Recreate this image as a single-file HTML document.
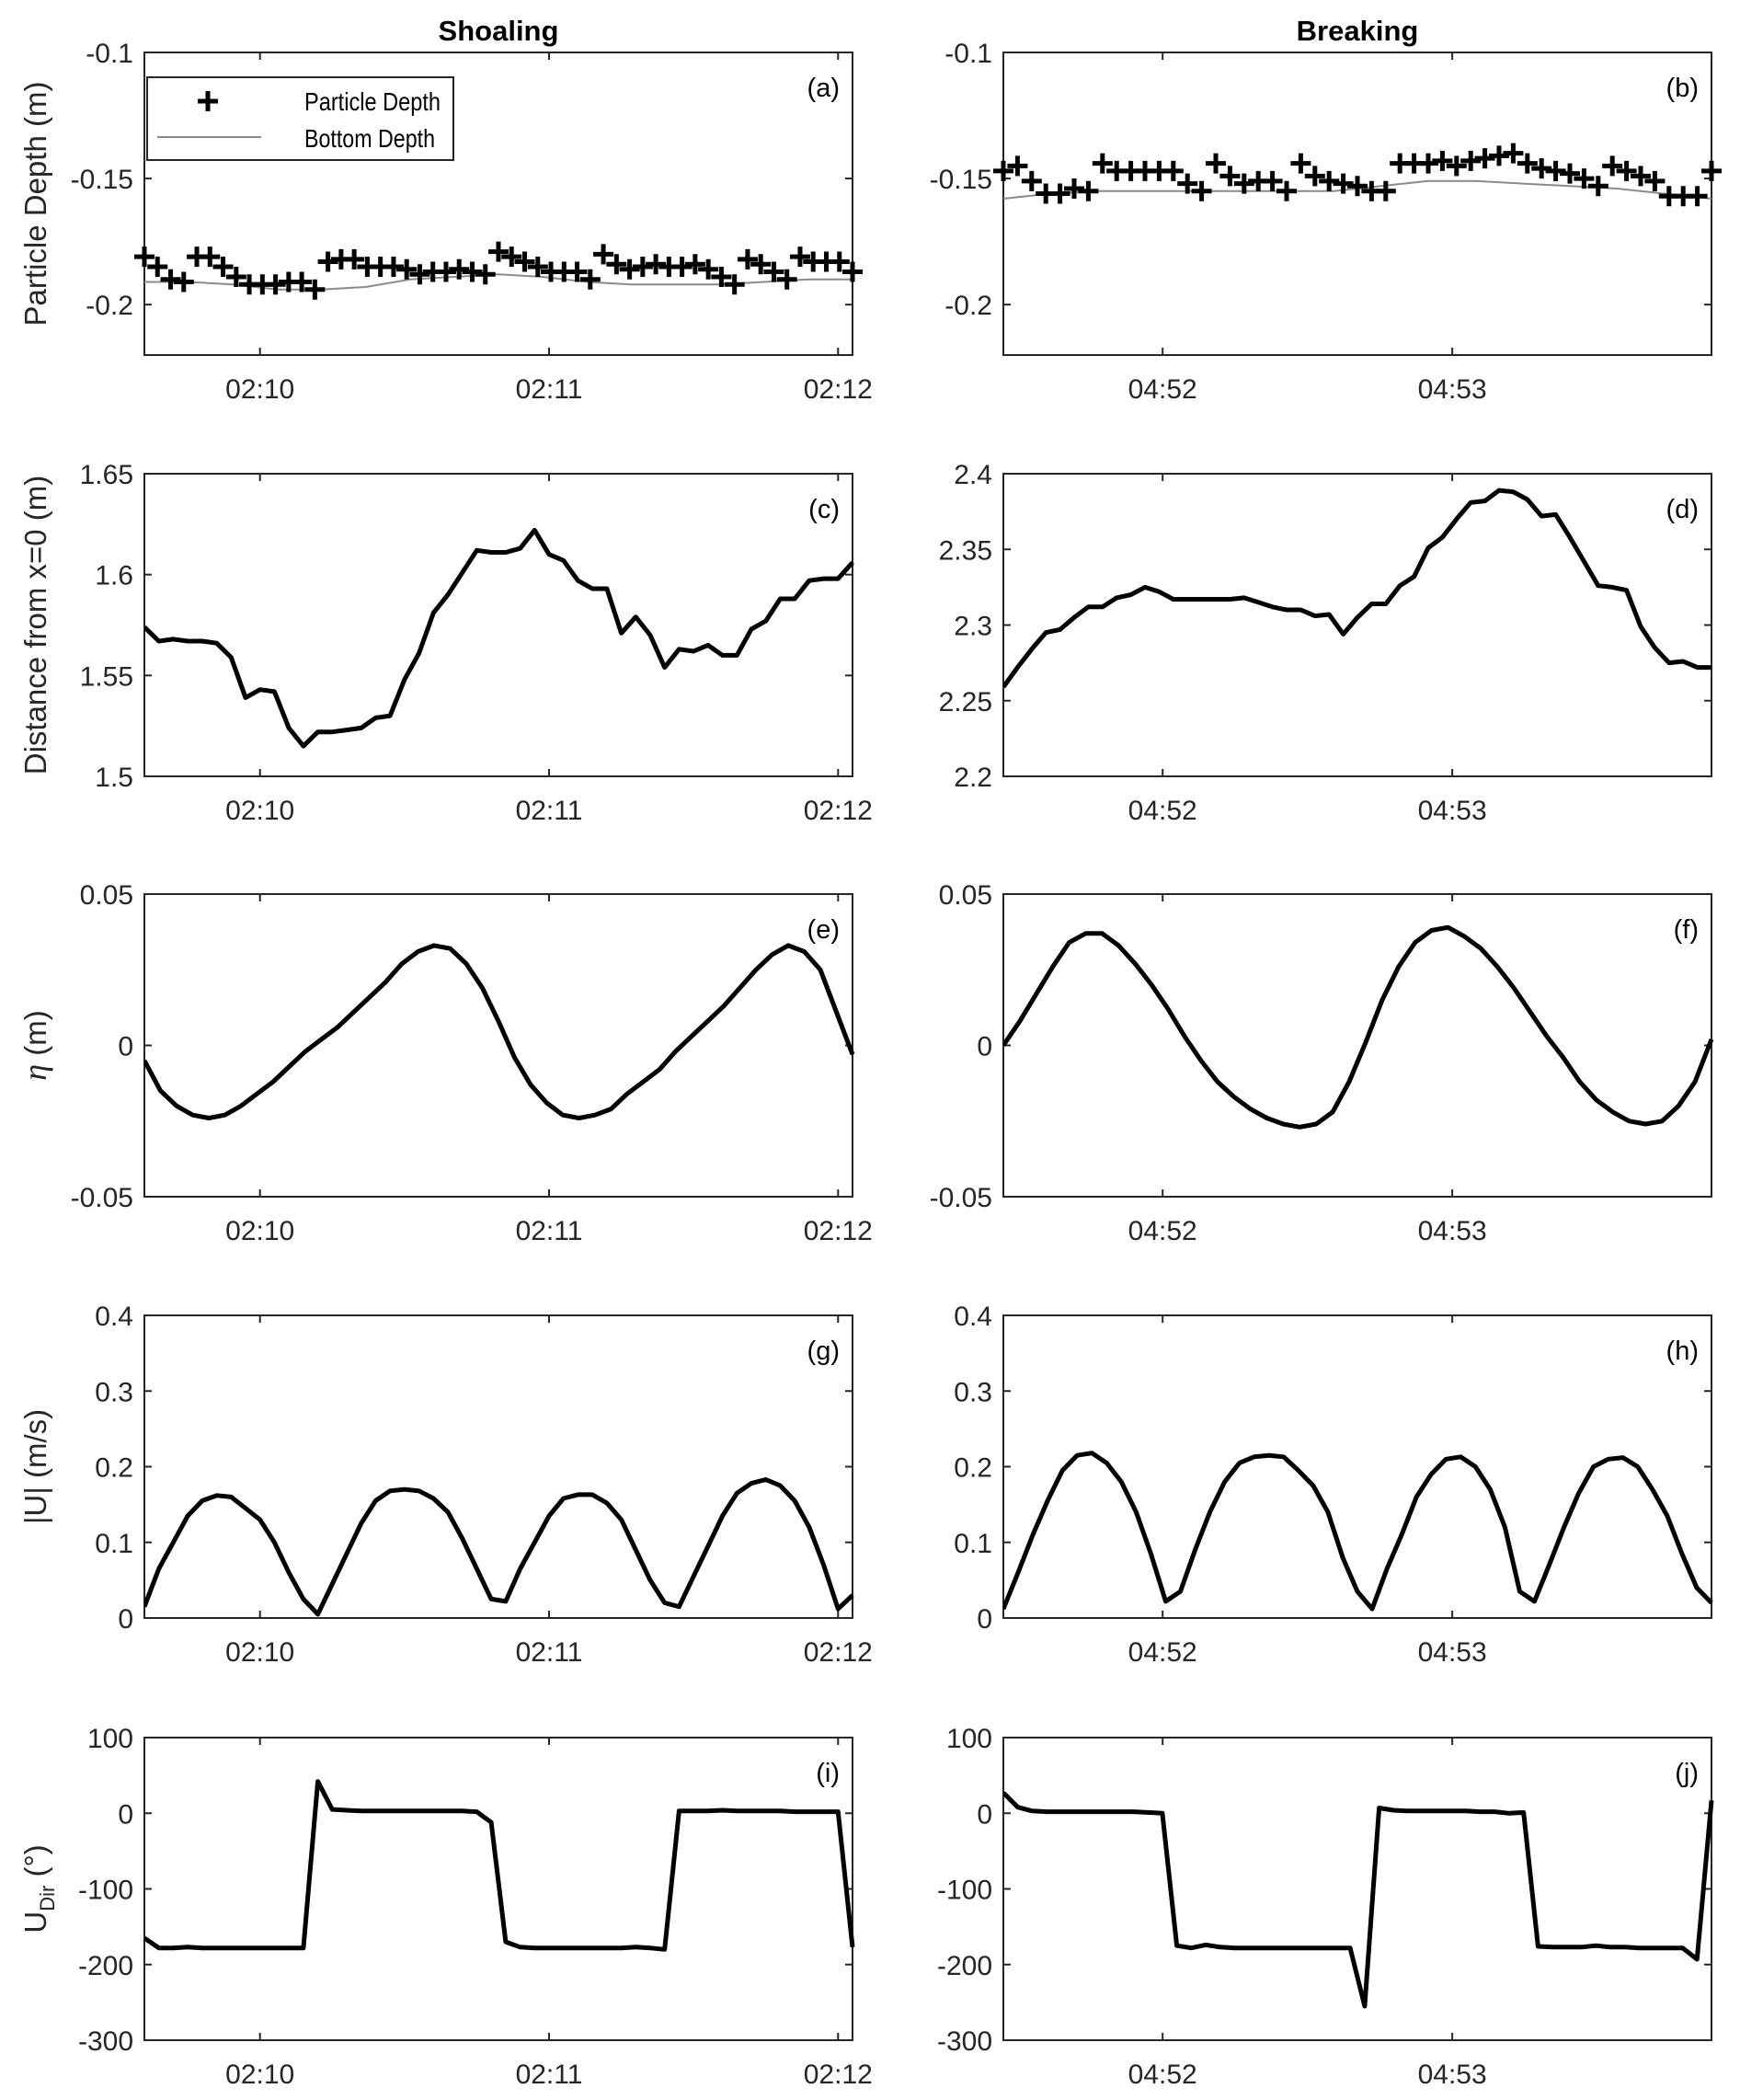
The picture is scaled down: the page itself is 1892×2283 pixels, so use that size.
<!DOCTYPE html>
<html><head><meta charset="utf-8">
<style>
html,body{margin:0;padding:0;background:#fff;}
svg{display:block;font-family:"Liberation Sans",sans-serif;}
</style></head>
<body>
<svg id="fig" width="1892" height="2283" viewBox="0 0 1892 2283">
<text x="542" y="44" font-size="31" font-weight="bold" text-anchor="middle" fill="#000">Shoaling</text>
<text x="1476" y="44" font-size="31" font-weight="bold" text-anchor="middle" fill="#000">Breaking</text>
</svg>
<script>
// ---- data ----
const shoalStart = 36, shoalEnd = 183;   // seconds after 02:09
const breakStart = 27, breakEnd = 173.7; // seconds after 04:51
const shoalTickLabels = ["02:10","02:11","02:12"];
const breakTickLabels = ["04:52","04:53"];
const aParticle = [-0.181,-0.185,-0.19,-0.191,-0.181,-0.181,-0.185,-0.189,-0.192,-0.192,-0.192,-0.191,-0.191,-0.194,-0.183,-0.182,-0.182,-0.185,-0.185,-0.185,-0.186,-0.188,-0.187,-0.187,-0.186,-0.187,-0.188,-0.179,-0.181,-0.183,-0.185,-0.187,-0.187,-0.187,-0.19,-0.18,-0.184,-0.186,-0.185,-0.184,-0.185,-0.185,-0.184,-0.186,-0.189,-0.192,-0.182,-0.184,-0.187,-0.19,-0.181,-0.183,-0.183,-0.183,-0.187];
const aBottom = [-0.191,-0.191,-0.192,-0.194,-0.194,-0.193,-0.190,-0.189,-0.188,-0.189,-0.191,-0.192,-0.192,-0.192,-0.191,-0.190,-0.190];
const bParticle = [-0.147,-0.145,-0.151,-0.156,-0.156,-0.154,-0.155,-0.144,-0.147,-0.147,-0.147,-0.147,-0.147,-0.152,-0.155,-0.144,-0.149,-0.152,-0.151,-0.151,-0.155,-0.144,-0.149,-0.151,-0.152,-0.153,-0.155,-0.155,-0.144,-0.144,-0.144,-0.143,-0.145,-0.143,-0.142,-0.141,-0.140,-0.144,-0.146,-0.147,-0.148,-0.150,-0.153,-0.145,-0.147,-0.149,-0.151,-0.157,-0.157,-0.157,-0.147];
const bBottom = [-0.158,-0.156,-0.155,-0.155,-0.155,-0.155,-0.155,-0.155,-0.153,-0.151,-0.151,-0.152,-0.153,-0.154,-0.156,-0.158];
const cDist = [1.574,1.567,1.568,1.567,1.567,1.566,1.559,1.539,1.543,1.542,1.524,1.515,1.522,1.522,1.523,1.524,1.529,1.530,1.548,1.561,1.581,1.590,1.601,1.612,1.611,1.611,1.613,1.622,1.610,1.607,1.597,1.593,1.593,1.571,1.579,1.570,1.554,1.563,1.562,1.565,1.560,1.560,1.573,1.577,1.588,1.588,1.597,1.598,1.598,1.606];
const dDist = [2.259,2.272,2.284,2.295,2.297,2.305,2.312,2.312,2.318,2.320,2.325,2.322,2.317,2.317,2.317,2.317,2.317,2.318,2.315,2.312,2.310,2.310,2.306,2.307,2.294,2.305,2.314,2.314,2.326,2.332,2.351,2.358,2.370,2.381,2.382,2.389,2.388,2.383,2.372,2.373,2.358,2.342,2.326,2.325,2.323,2.299,2.285,2.275,2.276,2.272,2.272];
const eEta = [-0.005,-0.015,-0.02,-0.023,-0.024,-0.023,-0.02,-0.016,-0.012,-0.007,-0.002,0.002,0.006,0.011,0.016,0.021,0.027,0.031,0.033,0.032,0.027,0.019,0.008,-0.004,-0.013,-0.019,-0.023,-0.024,-0.023,-0.021,-0.016,-0.012,-0.008,-0.002,0.003,0.008,0.013,0.019,0.025,0.030,0.033,0.031,0.025,0.011,-0.003];
const fEta = [0,0.008,0.017,0.026,0.034,0.037,0.037,0.033,0.027,0.02,0.012,0.003,-0.005,-0.012,-0.017,-0.021,-0.024,-0.026,-0.027,-0.026,-0.022,-0.012,0.001,0.015,0.026,0.034,0.038,0.039,0.036,0.032,0.026,0.019,0.011,0.003,-0.004,-0.012,-0.018,-0.022,-0.025,-0.026,-0.025,-0.02,-0.012,0.002];
const gSpeed = [0.015,0.065,0.1,0.135,0.155,0.162,0.16,0.145,0.13,0.1,0.06,0.025,0.005,0.045,0.085,0.125,0.155,0.168,0.17,0.168,0.158,0.14,0.105,0.065,0.025,0.022,0.065,0.10,0.135,0.158,0.163,0.163,0.152,0.13,0.09,0.05,0.02,0.015,0.055,0.095,0.135,0.165,0.178,0.183,0.175,0.155,0.12,0.07,0.012,0.03];
const hSpeed = [0.012,0.06,0.11,0.155,0.195,0.215,0.218,0.205,0.18,0.14,0.085,0.022,0.035,0.09,0.14,0.18,0.205,0.213,0.215,0.213,0.195,0.175,0.14,0.08,0.035,0.012,0.065,0.11,0.16,0.19,0.21,0.213,0.2,0.17,0.12,0.035,0.022,0.07,0.12,0.165,0.2,0.21,0.212,0.2,0.17,0.135,0.085,0.04,0.02];
const iDir = [-165,-178,-178,-177,-178,-178,-178,-178,-178,-178,-178,-178,42,5,4,3,3,3,3,3,3,3,3,2,-12,-170,-177,-178,-178,-178,-178,-178,-178,-178,-177,-178,-180,3,3,3,4,3,3,3,3,2,2,2,2,-177];
const jDir = [27,8,3,2,2,2,2,2,2,2,1,0,-175,-178,-174,-177,-178,-178,-178,-178,-178,-178,-178,-178,-178,-255,7,4,3,3,3,3,3,2,2,0,1,-176,-177,-177,-177,-175,-177,-177,-178,-178,-178,-178,-193,17];
const ticksA = [-0.2,-0.15,-0.1], labelsA = ["-0.2","-0.15","-0.1"];
const ticksC = [1.5,1.55,1.6,1.65], labelsC = ["1.5","1.55","1.6","1.65"];
const ticksD = [2.2,2.25,2.3,2.35,2.4], labelsD = ["2.2","2.25","2.3","2.35","2.4"];
const ticksE = [-0.05,0,0.05], labelsE = ["-0.05","0","0.05"];
const ticksG = [0,0.1,0.2,0.3,0.4], labelsG = ["0","0.1","0.2","0.3","0.4"];
const ticksI = [-300,-200,-100,0,100], labelsI = ["-300","-200","-100","0","100"];

// ---- drawing ----
const NS = "http://www.w3.org/2000/svg";
const svg = document.getElementById("fig");
function mk(tag, attrs, parent){
  const e = document.createElementNS(NS, tag);
  for (const k in attrs) e.setAttribute(k, attrs[k]);
  (parent||svg).appendChild(e);
  return e;
}
const L = {x0:157, x1:927, xmin:shoalStart, xmax:shoalEnd, ticks:[60,120,180], tl:shoalTickLabels};
const R = {x0:1091, x1:1861, xmin:breakStart, xmax:breakEnd, ticks:[60,120], tl:breakTickLabels};
const rowTop = [57, 515, 972, 1430, 1889], H = 329;

function panel(col, row, ymin, ymax, yt, yl, tag, ylabel){
  const y0 = rowTop[row], y1 = y0 + H;
  const g = mk("g", {});
  
  
  const sx = t => col.x0 + (t - col.xmin) / (col.xmax - col.xmin) * (col.x1 - col.x0);
  const sy = v => y1 - (v - ymin) / (ymax - ymin) * H;
  const ax = mk("rect", {x:col.x0, y:y0, width:col.x1-col.x0, height:H, fill:"none", stroke:"#262626", "stroke-width":2}, g);
  
  
  col.ticks.forEach((t, i) => {
    const x = sx(t);
    mk("line", {x1:x, x2:x, y1:y1, y2:y1-8, stroke:"#262626", "stroke-width":2}, g);
    mk("line", {x1:x, x2:x, y1:y0, y2:y0+8, stroke:"#262626", "stroke-width":2}, g);
    const tx = mk("text", {x:x, y:y1+47, "font-size":30, "text-anchor":"middle", fill:"#262626"}, g);
    
    
    tx.textContent = col.tl[i];
  });
  yt.forEach((v, i) => {
    const y = sy(v);
    mk("line", {x1:col.x0, x2:col.x0+8, y1:y, y2:y, stroke:"#262626", "stroke-width":2}, g);
    mk("line", {x1:col.x1, x2:col.x1-8, y1:y, y2:y, stroke:"#262626", "stroke-width":2}, g);
    const tx = mk("text", {x:col.x0-12, y:y+11, "font-size":30, "text-anchor":"end", fill:"#262626"}, g);
    
    
    tx.textContent = yl[i];
  });
  const pl = mk("text", {x:col.x1-14, y:y0+48, "font-size":29, "text-anchor":"end", fill:"#000"}, g);
  
  
  pl.textContent = "(" + tag + ")";
  if (ylabel) {
    const t = mk("text", {x:0, y:0, "font-size":33, "text-anchor":"middle", fill:"#262626", transform:"translate(50," + (y0+H/2) + ") rotate(-90)"}, g);
    
    
    t.innerHTML = ylabel;
  }
  const clip = "clip-" + tag;
  const cp = mk("clipPath", {id:clip}, g);
  mk("rect", {x:col.x0, y:y0-4, width:col.x1-col.x0+4, height:H+8}, cp);
  return {g, sx, sy, clip};
}
function line(p, vals, color, w, name){
  const n = vals.length;
  const c = p.__col;
  let d = "";
  vals.forEach((v, i) => {
    const t = c.xmin + i * (c.xmax - c.xmin) / (n - 1);
    d += (i ? "L" : "M") + p.sx(t).toFixed(1) + "," + p.sy(v).toFixed(1);
  });
  const e = mk("path", {d:d, fill:"none", stroke:color, "stroke-width":w, "stroke-linejoin":"round", "clip-path":"url(#" + p.clip + ")"}, p.g);
  
  
}
function pluses(p, vals, name){
  const n = vals.length, c = p.__col;
  const grp = mk("g", {}, p.g);
  
  
  vals.forEach((v, i) => {
    const t = c.xmin + i * (c.xmax - c.xmin) / (n - 1);
    const x = p.sx(t), y = p.sy(v);
    const e = mk("path", {d:"M"+(x-11)+","+y+"h22M"+x+","+(y-11)+"v22", stroke:"#000", "stroke-width":5}, grp);
    
    
  });
}
function P(col,row,ymin,ymax,yt,yl,tag,ylabel){ const p = panel(col,row,ymin,ymax,yt,yl,tag,ylabel); p.__col = col; return p; }

const pa = P(L,0,-0.22,-0.1,ticksA,labelsA,"a","Particle Depth (m)");
line(pa, aBottom, "#8a8a8a", 2, "bottom-depth-line");
pluses(pa, aParticle, "particle-depth-markers");
const pb = P(R,0,-0.22,-0.1,ticksA,labelsA,"b",null);
line(pb, bBottom, "#8a8a8a", 2, "bottom-depth-line");
pluses(pb, bParticle, "particle-depth-markers");
line(P(L,1,1.5,1.65,ticksC,labelsC,"c","Distance from x=0 (m)"), cDist, "#000", 5, "distance-line");
line(P(R,1,2.2,2.4,ticksD,labelsD,"d",null), dDist, "#000", 5, "distance-line");
line(P(L,2,-0.05,0.05,ticksE,labelsE,"e",'<tspan font-family="Liberation Serif" font-style="italic" font-size="36">η</tspan> (m)'), eEta, "#000", 5, "eta-line");
line(P(R,2,-0.05,0.05,ticksE,labelsE,"f",null), fEta, "#000", 5, "eta-line");
line(P(L,3,0,0.4,ticksG,labelsG,"g","|U| (m/s)"), gSpeed, "#000", 5, "speed-line");
line(P(R,3,0,0.4,ticksG,labelsG,"h",null), hSpeed, "#000", 5, "speed-line");
line(P(L,4,-300,100,ticksI,labelsI,"i",'U<tspan font-size="22" dy="9">Dir</tspan><tspan dy="-9"> (°)</tspan>'), iDir, "#000", 5, "direction-line");
line(P(R,4,-300,100,ticksI,labelsI,"j",null), jDir, "#000", 5, "direction-line");

// legend
const lg = mk("g", {});


mk("rect", {x:160, y:84, width:333, height:90, fill:"#fff", stroke:"#262626", "stroke-width":2}, lg);
const m = mk("path", {d:"M215,110h22M226,99v22", stroke:"#000", "stroke-width":5}, lg);


const t1 = mk("text", {x:331, y:120, "font-size":28, fill:"#000", textLength:148, lengthAdjust:"spacingAndGlyphs"}, lg);


t1.textContent = "Particle Depth";
const l2 = mk("line", {x1:171, x2:284, y1:149, y2:149, stroke:"#8a8a8a", "stroke-width":2}, lg);


const t2 = mk("text", {x:331, y:160, "font-size":28, fill:"#000", textLength:142, lengthAdjust:"spacingAndGlyphs"}, lg);


t2.textContent = "Bottom Depth";
</script>
</body></html>
